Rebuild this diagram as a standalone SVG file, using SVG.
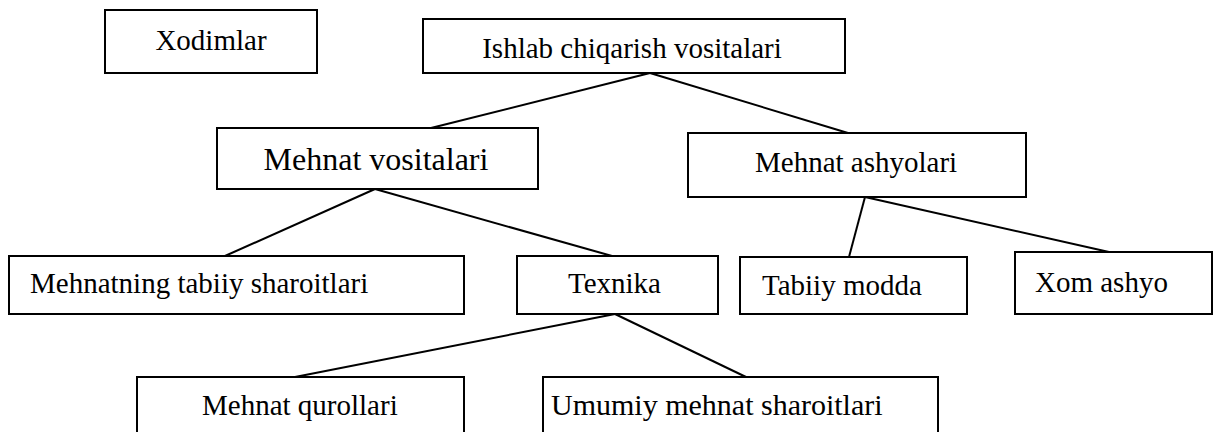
<svg xmlns="http://www.w3.org/2000/svg" width="1215" height="432" viewBox="0 0 1215 432">
<style>
rect.n{fill:#fff;stroke:#000;stroke-width:2}
text{font-family:"Liberation Serif","Times New Roman",serif;fill:#000;font-size:29px}
.c line{stroke:#000;stroke-width:2}
</style>
<rect x="0" y="0" width="1215" height="432" fill="#fff"/>
<g class="c" id="connectors">
<line x1="650" y1="73" x2="431" y2="128"/>
<line x1="650" y1="73" x2="848" y2="133"/>
<line x1="375" y1="189" x2="225" y2="256"/>
<line x1="375" y1="189" x2="612" y2="256"/>
<line x1="865" y1="197" x2="849" y2="257"/>
<line x1="865" y1="197" x2="1109" y2="252"/>
<line x1="615" y1="314" x2="295" y2="377"/>
<line x1="615" y1="314" x2="746" y2="377"/>
</g>
<g id="xodimlar"><rect class="n" x="105" y="10" width="212" height="63"/><text x="211" y="50" text-anchor="middle">Xodimlar</text></g>
<g id="ishlab"><rect class="n" x="423" y="19" width="422" height="54"/><text x="632" y="58" text-anchor="middle">Ishlab chiqarish vositalari</text></g>
<g id="mvositalari"><rect class="n" x="217" y="128" width="321" height="61"/><text x="376" y="170" text-anchor="middle" style="font-size:32px">Mehnat vositalari</text></g>
<g id="mashyolari"><rect class="n" x="688" y="133" width="338" height="64"/><text x="755" y="172">Mehnat ashyolari</text></g>
<g id="mtabiiy"><rect class="n" x="9" y="256" width="455" height="58"/><text x="30" y="293">Mehnatning tabiiy sharoitlari</text></g>
<g id="texnika"><rect class="n" x="517" y="256" width="201" height="58"/><text x="568" y="293">Texnika</text></g>
<g id="tabiiy"><rect class="n" x="740" y="257" width="227" height="57"/><text x="762" y="295">Tabiiy modda</text></g>
<g id="xom"><rect class="n" x="1015" y="252" width="197" height="62"/><text x="1035" y="292">Xom ashyo</text></g>
<g id="qurollari"><rect class="n" x="137" y="377" width="327" height="70"/><text x="202" y="415">Mehnat qurollari</text></g>
<g id="umumiy"><rect class="n" x="543" y="377" width="395" height="70"/><text x="551" y="415" style="font-size:30px">Umumiy mehnat sharoitlari</text></g>
</svg>
